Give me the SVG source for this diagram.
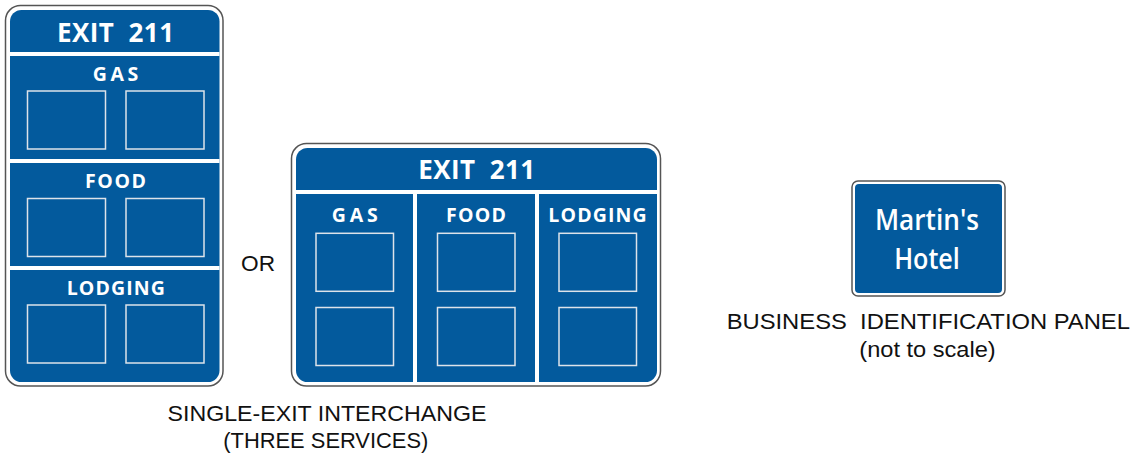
<svg xmlns="http://www.w3.org/2000/svg" width="1138" height="458" viewBox="0 0 1138 458">
<style>
.outer{fill:#fff;stroke:#555;stroke-width:1.5}
.blue{fill:#035a9d}
.div{fill:#fff}
.box{fill:none;stroke:#dde3ea;stroke-width:1.5}
.sg{font-family:"Open Sans","DejaVu Sans",sans-serif;font-weight:bold;fill:#fff;text-anchor:middle}
.bn{font-weight:600}
.cap{font-family:"Liberation Sans",Arial,sans-serif;fill:#111;text-anchor:middle}
</style>
<rect width="1138" height="458" fill="#fff"/>
<g id="sign-vertical">
<rect class="outer" x="5.5" y="5.5" width="217.5" height="380.5" rx="15"/>
<rect class="blue" x="10" y="10" width="209.5" height="372" rx="11.5"/>
<rect class="div" x="10" y="52" width="209.5" height="4"/>
<rect class="div" x="10" y="159" width="209.5" height="4"/>
<rect class="div" x="10" y="266" width="209.5" height="4"/>
<text class="sg" x="115.5" y="41.5" font-size="26" textLength="117" lengthAdjust="spacing" xml:space="preserve">EXIT  211</text>
<text class="sg" x="115.5" y="81" font-size="19.5" textLength="45.5" lengthAdjust="spacing">GAS</text>
<text class="sg" x="115.5" y="188.3" font-size="19.5" textLength="61" lengthAdjust="spacing">FOOD</text>
<text class="sg" x="115.8" y="295" font-size="19.5" textLength="98.3" lengthAdjust="spacing">LODGING</text>
<rect class="box" x="27.5" y="91" width="78" height="58"/>
<rect class="box" x="126" y="91" width="78" height="58"/>
<rect class="box" x="27.5" y="198.5" width="78" height="58"/>
<rect class="box" x="126" y="198.5" width="78" height="58"/>
<rect class="box" x="27.5" y="305" width="78" height="58"/>
<rect class="box" x="126" y="305" width="78" height="58"/>
</g>
<g id="or-label">
<text class="cap" x="258" y="270.7" font-size="22" textLength="34" lengthAdjust="spacingAndGlyphs">OR</text>
</g>
<g id="sign-horizontal">
<rect class="outer" x="291.5" y="143.5" width="369" height="242.5" rx="15"/>
<rect class="blue" x="296" y="148" width="361" height="234" rx="11.5"/>
<rect class="div" x="296" y="190" width="361" height="4"/>
<rect class="div" x="413" y="194" width="4" height="188"/>
<rect class="div" x="535" y="194" width="4" height="188"/>
<text class="sg" x="476.7" y="179.3" font-size="26" textLength="117" lengthAdjust="spacing" xml:space="preserve">EXIT  211</text>
<text class="sg" x="354.7" y="222.3" font-size="19.5" textLength="46" lengthAdjust="spacing">GAS</text>
<text class="sg" x="476" y="222.3" font-size="19.5" textLength="60" lengthAdjust="spacing">FOOD</text>
<text class="sg" x="597.5" y="222.3" font-size="19.5" textLength="98.4" lengthAdjust="spacing">LODGING</text>
<rect class="box" x="316" y="233.3" width="77.5" height="58"/>
<rect class="box" x="437.5" y="233.3" width="77.5" height="58"/>
<rect class="box" x="559" y="233.3" width="77.5" height="58"/>
<rect class="box" x="316" y="307.5" width="77.5" height="58"/>
<rect class="box" x="437.5" y="307.5" width="77.5" height="58"/>
<rect class="box" x="559" y="307.5" width="77.5" height="58"/>
</g>
<g id="caption-interchange">
<text class="cap" x="327" y="420.5" font-size="21.5" textLength="319" lengthAdjust="spacingAndGlyphs">SINGLE-EXIT INTERCHANGE</text>
<text class="cap" x="325.8" y="448" font-size="21.5" textLength="205" lengthAdjust="spacingAndGlyphs">(THREE SERVICES)</text>
</g>
<g id="sign-business">
<rect class="outer" x="852" y="181" width="153" height="115" rx="6"/>
<rect class="blue" x="855" y="184" width="147" height="109" rx="4"/>
<text class="sg bn" x="927" y="230" font-size="28.5" textLength="104" lengthAdjust="spacingAndGlyphs">Martin's</text>
<text class="sg bn" x="927" y="269" font-size="28.5" textLength="65.7" lengthAdjust="spacingAndGlyphs">Hotel</text>
</g>
<g id="caption-business">
<text class="cap" x="928.3" y="328.7" font-size="21.8" textLength="403.3" lengthAdjust="spacingAndGlyphs" xml:space="preserve">BUSINESS  IDENTIFICATION PANEL</text>
<text class="cap" x="927.5" y="356.7" font-size="21.8" textLength="136.4" lengthAdjust="spacingAndGlyphs">(not to scale)</text>
</g>
</svg>
